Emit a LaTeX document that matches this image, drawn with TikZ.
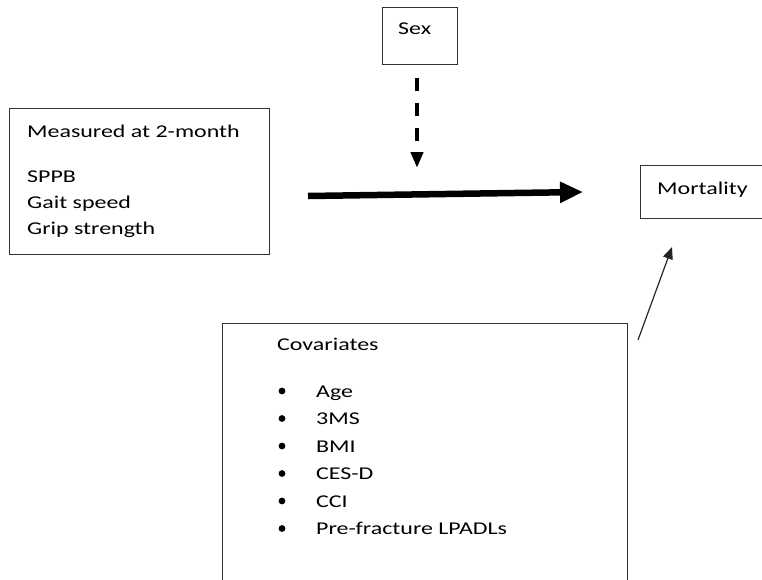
\documentclass[tikz,border=0pt]{standalone}
\usepackage{fontspec}
\setmainfont{Carlito}[FakeStretch=1.33]
\usetikzlibrary{arrows.meta,calc}

\begin{document}
\begin{tikzpicture}[x=1pt,y=-1pt,
  box/.style={draw=black!80,line width=1.2pt,inner sep=0pt,anchor=north west},
  lbl/.style={inner sep=0pt,anchor=base west,text=black,font=\fontsize{18pt}{22pt}\selectfont}]
\useasboundingbox(0,0)rectangle(762,579);\clip(0,0)rectangle(762,579);
\node[box,minimum width=75,minimum height=57](sex)at(382,7){};
\node[lbl](sext)at(398,34){Sex};
\node[box,minimum width=260,minimum height=146](meas)at(9,108){};
\node[lbl](meast)at(27,137){Measured at 2-month};
\node[lbl](sppb)at(27,182){SPPB};\node[lbl](gait)at(27,208){Gait speed};\node[lbl](grip)at(27,234){Grip strength};
\node[box,minimum width=140,minimum height=53](mort)at(640,165){};
\node[lbl](mortt)at(657,194){Mortality};
\node[box,minimum width=405,minimum height=290](cov)at(222,323){};
\node[lbl](covt)at(277,350){Covariates};
\foreach\t[count=\i from 0]in{Age,3MS,BMI,CES-D,CCI,Pre-fracture LPADLs}{
  \fill[black](282,391+27.5*\i)circle(3.4);\node[lbl](c\i)at(316,397+27.5*\i){\t};}
\coordinate(ms)at(308,196);\coordinate(me)at(583,192);
\coordinate(ss)at(417,78);\coordinate(se)at(417,168);
\coordinate(cs)at(638,340);\coordinate(ce)at(672,247);
\draw[line width=6.5pt,-{Triangle[length=23pt,width=20pt]}](ms)--(me);
\draw[line width=4.5pt,dash pattern=on 13pt off 12pt,-{Triangle[length=16pt,width=12pt]}](ss)--(se);
\draw[line width=1.2pt,black!85,-{Triangle[length=12pt,width=10pt]}](cs)--(ce);
\end{tikzpicture}
\end{document}
